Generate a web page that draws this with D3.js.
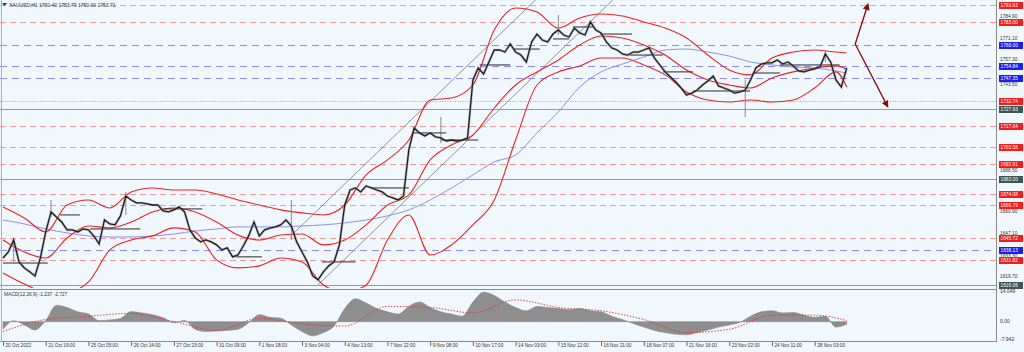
<!DOCTYPE html>
<html>
<head>
<meta charset="utf-8">
<script src="https://cdn.jsdelivr.net/npm/d3@7"></script>
<style>
body { margin: 0; background: #f0f7fd; }
text { font-family: "Liberation Sans", Arial, sans-serif; }
</style>
</head>
<body>
<svg id="chart" width="1024" height="352"></svg>
<script>
// ---- data ----
const title = "XAUUSD,H1  1750.40 1753.79 1750.00 1753.71"
const macdTitle = "MACD(12,26,9) -1.237 -2.727"

// one label every 8 samples
const timeLabels = ["20 Oct 2022","21 Oct 19:00","25 Oct 05:00","26 Oct 14:00","27 Oct 23:00",
  "31 Oct 09:00","1 Nov 18:00","3 Nov 04:00","4 Nov 13:00","7 Nov 22:00","9 Nov 08:00",
  "10 Nov 17:00","14 Nov 03:00","15 Nov 12:00","16 Nov 21:00","18 Nov 07:00","21 Nov 16:00",
  "23 Nov 02:00","24 Nov 11:00","28 Nov 03:00"]

// close prices, one sample per step
const closes = [1633.2,1637.0,1644.6,1630.7,1626.9,1624.4,1621.8,1633.2,1649.7,1662.4,
  1659.2,1656.0,1651.0,1651.0,1649.7,1651.6,1651.0,1647.2,1642.1,1657.3,
  1654.8,1654.2,1659.9,1672.5,1670.0,1668.1,1668.1,1667.5,1666.8,1666.8,
  1663.0,1662.4,1663.7,1665.6,1662.4,1651.0,1645.9,1643.4,1644.6,1643.4,
  1641.5,1638.3,1639.6,1633.9,1635.1,1640.8,1647.2,1656.0,1647.2,1651.0,
  1652.2,1652.9,1654.2,1657.3,1653.5,1643.4,1637.0,1630.7,1621.8,1619.3,
  1624.4,1628.2,1630.7,1641.5,1666.8,1676.3,1677.6,1675.1,1678.9,1677.6,
  1676.3,1675.1,1672.5,1671.3,1670.0,1672.5,1701.7,1715.6,1712.5,1710.6,
  1712.5,1710.0,1709.3,1707.4,1708.0,1707.4,1708.0,1709.3,1746.1,1753.7,
  1749.9,1757.5,1765.1,1765.1,1763.8,1768.9,1763.8,1761.9,1757.5,1770.2,
  1775.2,1771.4,1770.2,1775.2,1777.8,1774.6,1773.3,1779.0,1775.9,1774.6,
  1782.9,1777.8,1775.9,1770.2,1766.4,1765.1,1762.6,1761.9,1763.8,1763.8,
  1765.1,1766.4,1760.0,1755.6,1751.2,1748.0,1744.8,1741.0,1736.6,1737.8,
  1739.7,1742.9,1745.4,1748.6,1742.3,1741.0,1739.7,1737.8,1738.5,1739.7,
  1746.1,1753.7,1756.2,1756.9,1756.9,1758.8,1756.2,1757.5,1755.0,1751.8,
  1751.2,1752.4,1753.1,1754.3,1762.6,1757.5,1746.1,1741.6,1753.7]

// [sample, high, low] for the visible long wicks
const wicks = [[2,1645.9,1630.7],[9,1670.0,1659.2],[23,1675.1,1660.5],[54,1670.0,1644.6],
  [82,1722.6,1706.1],[104,1787.3,1774.6],[139,1746.1,1722.6],[154,1765.1,1757.5]]

// short black session-open segments [from sample, to sample, price]
const sessionOpens = [[0,8.4,1630.0],[10.7,14.4,1660.5],[16.3,25.7,1651.6],[30,37.3,1664.3],
  [43.6,48.5,1633.9],[59.7,66,1630.7],[69,76,1677.6],[76.8,83,1712.5],[82,89,1708.0],
  [89.3,95,1755.6],[95.5,100.5,1765.7],[103,106,1772.1],[106.7,110.5,1779.7],
  [111.8,117.8,1775.2],[117.4,123.6,1761.9],[123.6,129.2,1751.2],[129.2,139.9,1739.1],
  [140.4,145.5,1750.5],[145.5,156.7,1755.6]]

// bands and moving average, sampled every 4 steps (last one at 158)
const bbUpper = [1665.6,1658.6,1649.7,1666.8,1670.0,1664.9,1675.1,1677.6,1676.3,1676.3,
  1673.8,1670.0,1666.8,1663.7,1661.8,1660.5,1666.8,1685.9,1695.4,1708.0,
  1733.4,1734.7,1742.9,1777.8,1791.7,1789.2,1779.0,1785.4,1787.9,1786.7,
  1782.9,1779.0,1772.7,1761.9,1752.4,1749.3,1760.0,1763.8,1765.1,1763.8,1763.2]
const bbMiddle = [1644.6,1637.0,1633.2,1645.9,1653.5,1652.3,1656.0,1662.4,1664.9,1662.4,
  1656.0,1647.8,1644.6,1647.8,1648.4,1641.5,1644.6,1654.2,1666.8,1673.2,
  1695.4,1704.9,1711.2,1728.3,1742.9,1751.2,1758.8,1768.3,1774.0,1772.7,
  1768.3,1761.9,1752.4,1746.1,1742.9,1741.0,1747.4,1751.2,1753.7,1755.0,1753.1]
const bbLower = [1623.7,1616.7,1611.7,1611.7,1618.0,1638.3,1644.6,1647.2,1652.3,1649.7,
  1632.0,1626.9,1628.2,1633.2,1630.7,1616.1,1611.7,1616.1,1644.6,1660.5,
  1635.1,1641.5,1654.2,1670.0,1708.0,1742.9,1751.2,1755.0,1760.0,1760.0,
  1755.6,1749.3,1738.5,1733.4,1732.1,1733.4,1732.1,1733.4,1741.0,1751.2,1741.6]
const maSlow = [1657.3,1654.8,1651.6,1649.1,1647.2,1646.5,1646.5,1647.2,1648.4,1650.3,
  1651.6,1652.9,1652.9,1652.9,1653.5,1654.2,1655.4,1657.3,1659.9,1663.7,
  1670.0,1677.6,1685.9,1694.1,1698.5,1712.5,1725.8,1741.6,1751.2,1756.2,
  1760.7,1765.1,1765.7,1763.8,1761.3,1757.5,1755.6,1754.3,1753.7,1751.8,1750.5]

// trend channel and forecast arrows, in [sample, price]
const channelLines = [[[53.7,1646.5],[101,1801]], [[59,1616.1],[114.2,1796.8]]]
const arrowUp = [[159.6,1768.9],[162,1794.3]]
const arrowDown = [[159.6,1768.9],[165.7,1729.0]]

// horizontal levels
const redLevels = [1793.63,1783.00,1717.04,1703.58,1692.91,1674.08,1666.79,1645.72,1631.82]
const dottedLevels = [1732.74]
const blueLevels = [1768.00,1754.84,1747.35,1638.13]
const greyLevels = [1727.93,1683.00,1616.06]
const priceTicks = [1784.90,1771.10,1757.30,1743.50,1688.50,1660.90,1647.10,1633.30,1619.70]

// MACD histogram every 2 steps, signal every 8 steps (last one at 158)
const macd = [-3.5,0.4,-1.5,-3.8,0.5,7.5,6.5,4.5,3.5,0.5,
  0.8,1.5,4.6,4.0,3.2,1.8,-0.5,0.5,-3.5,-4.5,
  -4.3,-4.0,-3.5,-0.5,3.2,2.0,1.6,-1.5,-4.5,-6.5,
  -5.0,-2.0,6.0,10.5,8.5,6.0,4.5,3.5,7.0,9.0,
  6.5,4.5,3.5,2.5,9.0,13.5,12.0,9.0,6.5,5.0,
  7.0,6.5,6.0,5.5,6.0,5.0,4.5,2.5,1.0,-0.8,
  -2.5,-4.0,-5.0,-5.8,-6.0,-5.0,-3.8,-2.5,-1.5,-0.3,
  2.5,4.5,5.0,4.0,4.2,3.0,2.0,2.5,-2.5,-1.2]
const macdSignal = [-4.5,1.0,2.5,3.8,0.0,-4.0,1.5,-1.0,-2.0,7.0,
  6.5,4.0,10.0,6.5,5.0,1.0,-5.0,-3.5,3.0,3.0,0.5]
const macdTicks = [14.049, 0, -7.942]
const macdTickLabels = ["14.049", "0.00", "-7.942"]

// ---- layout ----
const W = 1024, H = 352
const plotRight = 996
const mainTop = 0, mainBottom = 288
const macdTop = 290, macdBottom = 341

const svg = d3.select('#chart')

svg.append('rect').attr('width', W).attr('height', H).attr('fill', '#f0f7fd')

// scales
let x = d3.scaleLinear().domain([0, 186]).range([3, 996.2])
let y = d3.scaleLinear().domain([1616.06, 1793.63]).range([285, 5])
let ym = d3.scaleLinear().domain([-7.942, 14.049]).range([339, 291])

const bandIdx = bbUpper.map((d, k) => k < bbUpper.length - 1 ? k * 4 : 158)
const sigIdx = macdSignal.map((d, k) => k < macdSignal.length - 1 ? k * 8 : 158)

let defs = svg.append('defs')
defs.append('clipPath').attr('id', 'clipMain')
  .append('rect').attr('x', 0).attr('y', mainTop).attr('width', plotRight).attr('height', mainBottom - mainTop)
defs.append('clipPath').attr('id', 'clipMacd')
  .append('rect').attr('x', 0).attr('y', macdTop).attr('width', plotRight).attr('height', macdBottom - macdTop)
defs.append('marker').attr('id', 'arrow')
  .attr('viewBox', '0 0 8 8').attr('refX', 7).attr('refY', 4)
  .attr('markerWidth', 7).attr('markerHeight', 7).attr('markerUnits', 'userSpaceOnUse')
  .attr('orient', 'auto')
  .append('path').attr('d', 'M0,0 L8,4 L0,8 z').attr('fill', '#8b0a0a')

let main = svg.append('g').attr('clip-path', 'url(#clipMain)')

// level lines
function levelLines(vals, color, dash, width) {
  main.append('g').selectAll('line').data(vals).join('line')
    .attr('x1', 0).attr('x2', plotRight)
    .attr('y1', d => Math.round(y(d)) + 0.5).attr('y2', d => Math.round(y(d)) + 0.5)
    .attr('stroke', color).attr('stroke-width', width)
    .attr('stroke-dasharray', dash)
}
levelLines(redLevels, '#f29a9a', '6,4', 1)
levelLines(dottedLevels, '#ef8a8a', '1,1.5', 1)
levelLines(blueLevels, '#8c8cf5', '7,5', 1)
levelLines(greyLevels, '#9a9a9a', null, 1)

// channel lines
const pt = d3.line().x(d => x(d[0])).y(d => y(d[1]))
main.selectAll('.chan').data(channelLines).join('path')
  .attr('class', 'chan')
  .attr('d', pt).attr('fill', 'none').attr('stroke', '#8a8a8a').attr('stroke-width', 0.9)

// slow moving average
const smooth = d3.line().x((d, k) => x(bandIdx[k])).y(d => y(d)).curve(d3.curveMonotoneX)
main.append('path').attr('d', smooth(maSlow))
  .attr('fill', 'none').attr('stroke', '#8f8ff0').attr('stroke-width', 1)

// bollinger bands
;[bbUpper, bbMiddle, bbLower].forEach(band => {
  main.append('path').attr('d', smooth(band))
    .attr('fill', 'none').attr('stroke', '#ee2222').attr('stroke-width', 1.1)
})

// wicks
main.append('g').selectAll('line').data(wicks).join('line')
  .attr('x1', d => x(d[0])).attr('x2', d => x(d[0]))
  .attr('y1', d => y(d[1])).attr('y2', d => y(d[2]))
  .attr('stroke', '#8a8a8a').attr('stroke-width', 1)

// session open segments
main.append('g').selectAll('line').data(sessionOpens).join('line')
  .attr('x1', d => x(d[0])).attr('x2', d => x(d[1]))
  .attr('y1', d => y(d[2])).attr('y2', d => y(d[2]))
  .attr('stroke', '#2a2a2a').attr('stroke-width', 1)

// price
const priceLine = d3.line().x((d, i) => x(i)).y(d => y(d))
main.append('path').attr('d', priceLine(closes))
  .attr('fill', 'none').attr('stroke', '#8c8c8c').attr('stroke-width', 2.6).attr('opacity', 0.5)
main.append('path').attr('d', priceLine(closes))
  .attr('fill', 'none').attr('stroke', '#1e1e1e').attr('stroke-width', 1.3)

// forecast arrows
;[arrowUp, arrowDown].forEach(a => {
  main.append('path').attr('d', pt(a))
    .attr('fill', 'none').attr('stroke', '#8b0a0a').attr('stroke-width', 1.3)
    .attr('marker-end', 'url(#arrow)')
})

// title
svg.append('path').attr('d', 'M2,3 L7,3 L4.5,6 z').attr('fill', '#333')
svg.append('text').attr('x', 9).attr('y', 6.5).attr('font-size', 5).attr('fill', '#333').text(title)

// ---- MACD panel ----
let mg = svg.append('g').attr('clip-path', 'url(#clipMacd)')
const hist = d3.area().x((d, m) => x(m * 2)).y0(ym(0)).y1(d => ym(d)).curve(d3.curveMonotoneX)
mg.append('path').attr('d', hist(macd))
  .attr('fill', '#8e8e8e').attr('stroke', '#7c7c7c').attr('stroke-width', 0.5)
const sig = d3.line().x((d, k) => x(sigIdx[k])).y(d => ym(d)).curve(d3.curveMonotoneX)
mg.append('path').attr('d', sig(macdSignal))
  .attr('fill', 'none').attr('stroke', '#e83030').attr('stroke-width', 0.9)
  .attr('stroke-dasharray', '1.5,1.5')

svg.append('text').attr('x', 4).attr('y', 296).attr('font-size', 4.8).attr('fill', '#333').text(macdTitle)

// ---- frame ----
svg.append('line').attr('x1', 0).attr('x2', plotRight).attr('y1', 289.5).attr('y2', 289.5)
  .attr('stroke', '#8a8a8a')
svg.append('line').attr('x1', 0).attr('x2', plotRight).attr('y1', macdBottom + 0.5).attr('y2', macdBottom + 0.5)
  .attr('stroke', '#8a8a8a')
svg.append('line').attr('x1', plotRight + 0.5).attr('x2', plotRight + 0.5).attr('y1', 0).attr('y2', macdBottom + 1)
  .attr('stroke', '#8a8a8a')
svg.append('line').attr('x1', 1.5).attr('x2', 1.5).attr('y1', 0).attr('y2', macdBottom + 1)
  .attr('stroke', '#b0b0b0')

// ---- time axis ----
let xAxis = d3.axisBottom(x)
  .tickValues(timeLabels.map((d, k) => k * 8))
  .tickFormat((d, k) => timeLabels[k])
  .tickSize(4)
let xg = svg.append('g').attr('transform', `translate(0,${macdBottom + 1})`).call(xAxis)
xg.select('.domain').remove()
xg.selectAll('.tick line').attr('stroke', '#666')
xg.selectAll('.tick text')
  .attr('text-anchor', 'start').attr('x', 2).attr('y', 2)
  .attr('font-size', 4.7).attr('fill', '#333')
  .attr('font-family', '"Liberation Sans", Arial, sans-serif')

// ---- price axis ----
const allLevels = redLevels.concat(dottedLevels, blueLevels, greyLevels)
const boxTop = d => Math.round(y(d)) - 3

// grey tick text sits on its tick, but steps aside from a nearby level box
function tickBaseline(t) {
  let base = y(t) - 1
  allLevels.forEach(l => {
    const top = boxTop(l), bottom = top + 7
    if (base > top - 0.3 && base - 4 < bottom) {
      base = (y(l) < y(t)) ? bottom + 4.2 : top - 0.3
    }
  })
  return base
}

let ax = svg.append('g')
ax.selectAll('text.tick').data(priceTicks).join('text')
  .attr('class', 'tick')
  .attr('x', 1000).attr('y', d => tickBaseline(d))
  .attr('font-size', 4.8).attr('fill', '#333')
  .text(d => d3.format('.2f')(d))

function levelBoxes(vals, color) {
  let g = ax.append('g').selectAll('g').data(vals).join('g')
    .attr('transform', d => `translate(999,${boxTop(d)})`)
  g.append('rect').attr('width', 24).attr('height', 7).attr('fill', color)
  g.append('text').attr('x', 1.5).attr('y', 5.3).attr('font-size', 4.8).attr('fill', '#fff')
    .text(d => d3.format('.2f')(d))
}
levelBoxes(redLevels, '#f21d1d')
levelBoxes(dottedLevels, '#f21d1d')
levelBoxes(blueLevels, '#1d1df0')
levelBoxes(greyLevels, '#3d5555')

ax.selectAll('text.mt').data(macdTicks).join('text')
  .attr('class', 'mt')
  .attr('x', 1000).attr('y', d => ym(d) + 1.8)
  .attr('font-size', 5).attr('fill', '#333')
  .text((d, k) => macdTickLabels[k])
</script>
</body>
</html>
